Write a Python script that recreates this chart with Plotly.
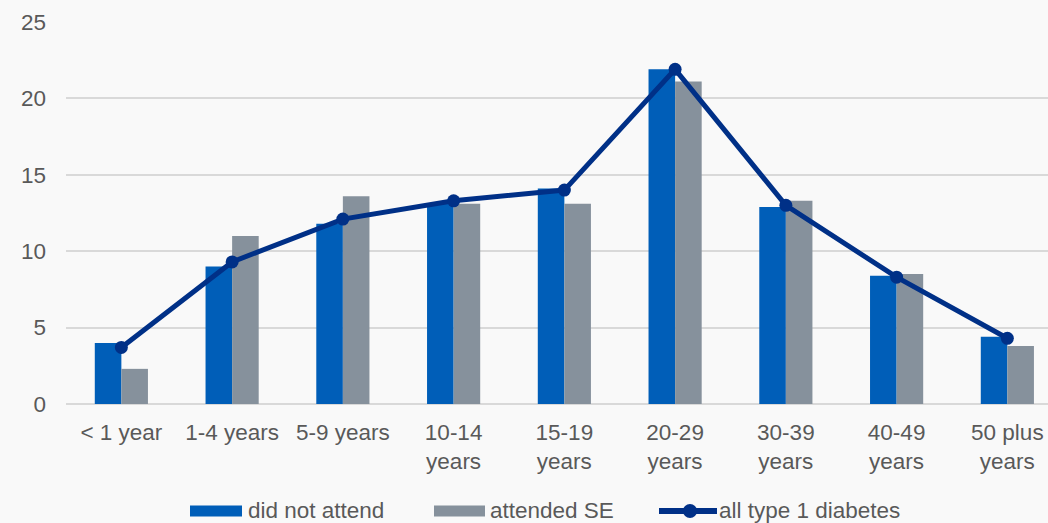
import plotly.graph_objects as go

# Age at diagnosis groups and percentage shares
age_groups = ["< 1 year", "1-4 years", "5-9 years", "10-14<br>years", "15-19<br>years",
              "20-29<br>years", "30-39<br>years", "40-49<br>years", "50 plus<br>years"]
did_not_attend = [4.0, 9.0, 11.8, 13.1, 14.1, 21.9, 12.9, 8.4, 4.4]
attended_se = [2.3, 11.0, 13.6, 13.1, 13.1, 21.1, 13.3, 8.5, 3.8]
all_type1 = [3.7, 9.3, 12.1, 13.3, 14.0, 21.9, 13.0, 8.3, 4.3]
y_ticks = [0, 5, 10, 15, 20, 25]

series_names = ["did not attend", "attended SE", "all type 1 diabetes"]
BLUE = "#005EB8"
GREY = "#86919C"
NAVY = "#003087"
TEXT = "#595959"
FONT = "Arial, Liberation Sans, sans-serif"
FS = 22.5

fig = go.Figure()
fig.add_trace(go.Bar(x=age_groups, y=did_not_attend, name=series_names[0],
                     marker=dict(color=BLUE, line=dict(width=0))))
fig.add_trace(go.Bar(x=age_groups, y=attended_se, name=series_names[1],
                     marker=dict(color=GREY, line=dict(width=0))))
fig.add_trace(go.Scatter(x=age_groups, y=all_type1, name=series_names[2],
                         mode="lines+markers",
                         line=dict(color=NAVY, width=5),
                         marker=dict(color=NAVY, size=13)))

W, H = 1048, 523
L, R, T, B = 66, 0, 22, 119
pw, ph = W - L - R, H - T - B


def px_x(p):
    return (p - L) / pw


def px_y(p):
    return (H - B - p) / ph


# Legend row below the axis with wide swatches
shapes = []
annotations = []
ly = 511
for x0, x1, color in [(190, 242, BLUE), (434, 485, GREY)]:
    shapes.append(dict(type="rect", xref="paper", yref="paper",
                       x0=px_x(x0), x1=px_x(x1), y0=px_y(ly + 5.5), y1=px_y(ly - 5.5),
                       fillcolor=color, line=dict(width=0), layer="above"))
shapes.append(dict(type="line", xref="paper", yref="paper",
                   x0=px_x(659), x1=px_x(717), y0=px_y(ly), y1=px_y(ly),
                   line=dict(color=NAVY, width=6), layer="above"))
shapes.append(dict(type="circle", xref="paper", yref="paper",
                   x0=px_x(683), x1=px_x(697), y0=px_y(ly + 7), y1=px_y(ly - 7),
                   fillcolor=NAVY, line=dict(width=0), layer="above"))
for x, name in [(246, series_names[0]), (488, series_names[1]), (717, series_names[2])]:
    annotations.append(dict(xref="paper", yref="paper", x=px_x(x), y=px_y(ly),
                            text=name, showarrow=False, xanchor="left", yanchor="middle",
                            font=dict(family=FONT, size=FS, color=TEXT)))

fig.update_layout(
    width=W, height=H,
    margin=dict(l=L, r=R, t=T, b=B, pad=0),
    paper_bgcolor="#F9F9F9", plot_bgcolor="#F9F9F9",
    barmode="group", bargap=0.52, bargroupgap=0,
    showlegend=False,
    font=dict(family=FONT, size=FS, color=TEXT),
    shapes=shapes, annotations=annotations,
    xaxis=dict(range=[-0.5, 8.367], showgrid=False, showline=False, zeroline=False,
               ticks="", tickfont=dict(size=FS, color=TEXT), automargin=False,
               ticklabelstandoff=12),
    yaxis=dict(range=[0, 25], tickvals=y_ticks, showgrid=True, gridcolor="#D9D9D9",
               gridwidth=2, zeroline=True, zerolinecolor="#D9D9D9", zerolinewidth=2,
               showline=False, ticks="", tickfont=dict(size=FS, color=TEXT),
               automargin=False, ticklabelstandoff=19),
)

fig.write_html("out.html")
